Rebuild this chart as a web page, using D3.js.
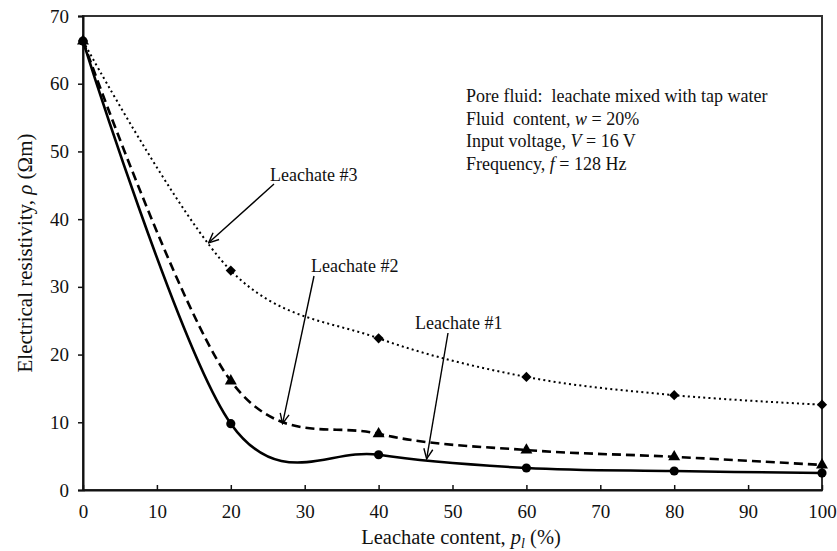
<!DOCTYPE html>
<html>
<head>
<meta charset="utf-8">
<script src="https://cdn.jsdelivr.net/npm/d3@7"></script>
<style>
  html, body { margin: 0; padding: 0; background: #fff; }
  svg { display: block; font-family: "Liberation Serif", "Times New Roman", serif; }
  text { white-space: pre; }
</style>
</head>
<body>
<svg id="chart" width="837" height="551"></svg>
<script>
// Leachate content (%) at which resistivity was measured
const leachateContent = [0, 20, 40, 60, 80, 100];
// Electrical resistivity (Ωm) for each leachate
const leachate1 = [66.3, 9.8, 5.2, 3.25, 2.8, 2.5];
const leachate2 = [66.3, 16.1, 8.3, 5.9, 4.9, 3.7];
const leachate3 = [66.3, 32.4, 22.4, 16.7, 14.0, 12.6];
const seriesNames = ["Leachate #1", "Leachate #2", "Leachate #3"];
const xTicks = [0, 10, 20, 30, 40, 50, 60, 70, 80, 90, 100];
const yTicks = [0, 10, 20, 30, 40, 50, 60, 70];
const conditions = [
  [["Pore fluid:  leachate mixed with tap water", false]],
  [["Fluid  content, ", false], ["w", true], [" = 20%", false]],
  [["Input voltage, ", false], ["V", true], [" = 16 V", false]],
  [["Frequency, ", false], ["f", true], [" = 128 Hz", false]]
];

const svg = d3.select("#chart");
const plotLeft = 83, plotRight = 822, plotTop = 16, plotBottom = 490;

const x = d3.scaleLinear().domain([0, 100]).range([plotLeft, plotRight]);
const y = d3.scaleLinear().domain([0, 70]).range([plotBottom, plotTop]);

// plot frame
svg.append("rect")
  .attr("x", plotLeft).attr("y", plotTop)
  .attr("width", plotRight - plotLeft).attr("height", plotBottom - plotTop)
  .attr("fill", "none").attr("stroke", "#333").attr("stroke-width", 2);

// y axis: ticks outside
const yAxis = svg.append("g")
  .attr("transform", `translate(${plotLeft},0)`)
  .call(d3.axisLeft(y).tickValues(yTicks).tickSize(5).tickPadding(9).tickFormat(d3.format("d")));
yAxis.select(".domain").attr("stroke", "#111").attr("stroke-width", 2);
yAxis.selectAll(".tick line").attr("stroke", "#111").attr("stroke-width", 1.5);
yAxis.selectAll(".tick text")
  .attr("font-family", "Liberation Serif, serif").attr("font-size", 19).attr("fill", "#111");

// x axis: ticks pointing into the plot
const xAxis = svg.append("g")
  .attr("transform", `translate(0,${plotBottom})`)
  .call(d3.axisBottom(x).tickValues(xTicks).tickSizeInner(-5).tickSizeOuter(0).tickPadding(10).tickFormat(d3.format("d")));
xAxis.select(".domain").attr("stroke", "#111").attr("stroke-width", 2);
xAxis.selectAll(".tick line").attr("stroke", "#111").attr("stroke-width", 1.5);
xAxis.selectAll(".tick text")
  .attr("font-family", "Liberation Serif, serif").attr("font-size", 19).attr("fill", "#111")
  .attr("dy", "0.95em");

// axis titles
const xTitle = svg.append("text")
  .attr("x", 461).attr("y", 544)
  .attr("text-anchor", "middle").attr("font-size", 20.5).attr("fill", "#111");
xTitle.append("tspan").text("Leachate content, ");
xTitle.append("tspan").attr("font-style", "italic").text("p");
xTitle.append("tspan").attr("font-style", "italic").attr("font-size", 14).attr("dy", 4).text("l");
xTitle.append("tspan").attr("dy", -4).text(" (%)");

const yTitle = svg.append("text")
  .attr("transform", `translate(32,${(plotTop + plotBottom) / 2}) rotate(-90)`)
  .attr("text-anchor", "middle").attr("font-size", 21).attr("fill", "#111");
yTitle.append("tspan").text("Electrical resistivity, ");
yTitle.append("tspan").attr("font-style", "italic").text("ρ");
yTitle.append("tspan").text(" (Ωm)");

// series, drawn back to front so the circles sit on top
const series = [
  { name: seriesNames[2], values: leachate3, dash: "2,3.2", width: 2, symbol: d3.symbolSquare, size: 52, rot: 45 },
  { name: seriesNames[1], values: leachate2, dash: "9,5", width: 2.6, symbol: d3.symbolTriangle, size: 62, rot: 0 },
  { name: seriesNames[0], values: leachate1, dash: null, width: 2.6, symbol: d3.symbolCircle, size: 66, rot: 0 }
];

const line = d3.line()
  .x((d, i) => x(leachateContent[i]))
  .y(d => y(d))
  .curve(d3.curveCardinal.tension(0));

series.forEach(s => {
  svg.append("path")
    .datum(s.values)
    .attr("d", line)
    .attr("fill", "none")
    .attr("stroke", "#000")
    .attr("stroke-width", s.width)
    .attr("stroke-dasharray", s.dash);
  svg.selectAll(null)
    .data(s.values)
    .join("path")
    .attr("transform", (d, i) => `translate(${x(leachateContent[i])},${y(d)}) rotate(${s.rot})`)
    .attr("d", d3.symbol().type(s.symbol).size(s.size))
    .attr("fill", "#000");
});

// arrow heads for the callouts
svg.append("defs").append("marker")
  .attr("id", "openArrow")
  .attr("viewBox", "0 0 12 12")
  .attr("refX", 11).attr("refY", 6)
  .attr("markerWidth", 12).attr("markerHeight", 12)
  .attr("markerUnits", "userSpaceOnUse")
  .attr("orient", "auto")
  .append("path")
  .attr("d", "M1,1.5 L11,6 L1,10.5")
  .attr("fill", "none").attr("stroke", "#000").attr("stroke-width", 1.4);

// callouts: label position plus the point the arrow touches (data units)
const callouts = [
  { label: seriesNames[2], tx: 270, ty: 181, from: [274, 184], to: [17, 36.5] },
  { label: seriesNames[1], tx: 311, ty: 272, from: [314, 276], to: [27, 9.8] },
  { label: seriesNames[0], tx: 415, ty: 329, from: [448, 333], to: [46.5, 4.6] }
];
callouts.forEach(c => {
  svg.append("text")
    .attr("x", c.tx).attr("y", c.ty)
    .attr("font-size", 18).attr("fill", "#111")
    .text(c.label);
  svg.append("line")
    .attr("x1", c.from[0]).attr("y1", c.from[1])
    .attr("x2", x(c.to[0])).attr("y2", y(c.to[1]))
    .attr("stroke", "#000").attr("stroke-width", 1.4)
    .attr("marker-end", "url(#openArrow)");
});

// test conditions block
const info = svg.append("text").attr("font-size", 18).attr("fill", "#111");
conditions.forEach((parts, i) => {
  const row = info.append("tspan").attr("x", 466).attr("y", 102 + i * 22.6);
  parts.forEach(([txt, ital]) => {
    const t = row.append("tspan").text(txt);
    if (ital) t.attr("font-style", "italic");
  });
});
</script>
</body>
</html>
